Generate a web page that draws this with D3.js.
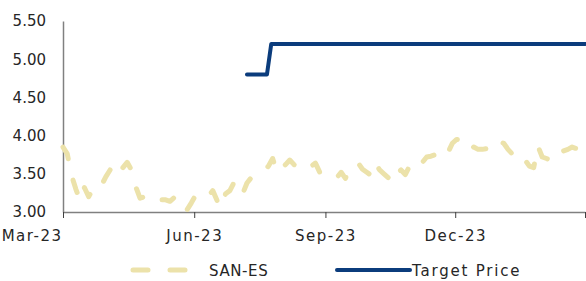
<!DOCTYPE html>
<html lang="en">
	<head>
		<meta charset="utf-8">
		<title>SAN-ES vs Target Price</title>
		<script type="text/javascript" src="https://d3js.org/d3.v7.min.js"></script>
		<style type="text/css">
			body {
				background-color: white;
				font-family: "DejaVu Sans", sans-serif;
				margin: 0;
			}
			svg {
				display: block;
				background-color: white;
			}
		</style>
	</head>
	<body>
		<script type="text/javascript">
			// Share price, every 3 days
			var priceDates = [
				"2023-03-01","2023-03-04","2023-03-07","2023-03-10","2023-03-13","2023-03-16","2023-03-19","2023-03-22",
				"2023-03-25","2023-03-28","2023-03-31","2023-04-03","2023-04-06","2023-04-09","2023-04-12","2023-04-15",
				"2023-04-18","2023-04-21","2023-04-24","2023-04-27","2023-04-30","2023-05-03","2023-05-06","2023-05-09",
				"2023-05-12","2023-05-15","2023-05-18","2023-05-21","2023-05-24","2023-05-27","2023-05-30","2023-06-02",
				"2023-06-05","2023-06-08","2023-06-11","2023-06-14","2023-06-17","2023-06-20","2023-06-23","2023-06-26",
				"2023-06-29","2023-07-02","2023-07-05","2023-07-08","2023-07-11","2023-07-14","2023-07-17","2023-07-20",
				"2023-07-23","2023-07-26","2023-07-29","2023-08-01","2023-08-04","2023-08-07","2023-08-10","2023-08-13",
				"2023-08-16","2023-08-19","2023-08-22","2023-08-25","2023-08-28","2023-08-31","2023-09-03","2023-09-06",
				"2023-09-09","2023-09-12","2023-09-15","2023-09-18","2023-09-21","2023-09-24","2023-09-27","2023-09-30",
				"2023-10-03","2023-10-06","2023-10-09","2023-10-12","2023-10-15","2023-10-18","2023-10-21","2023-10-24",
				"2023-10-27","2023-10-30","2023-11-02","2023-11-05","2023-11-08","2023-11-11","2023-11-14","2023-11-17",
				"2023-11-20","2023-11-23","2023-11-26","2023-11-29","2023-12-02","2023-12-05","2023-12-08","2023-12-11",
				"2023-12-14","2023-12-17","2023-12-20","2023-12-23","2023-12-26","2023-12-29","2024-01-01","2024-01-04",
				"2024-01-07","2024-01-10","2024-01-13","2024-01-16","2024-01-19","2024-01-22","2024-01-25","2024-01-28",
				"2024-01-31","2024-02-03","2024-02-06","2024-02-09","2024-02-12","2024-02-15","2024-02-18","2024-02-21",
				"2024-02-24","2024-02-27","2024-02-29"
			];
			var priceValues = [
				3.85, 3.76, 3.48, 3.30, 3.15, 3.32, 3.20, 3.30,
				3.28, 3.35, 3.46, 3.55, 3.45, 3.50, 3.58, 3.65,
				3.55, 3.33, 3.18, 3.20, 3.16, 3.18, 3.14, 3.16,
				3.16, 3.14, 3.19, 3.21, 3.13, 3.03, 3.12, 3.22,
				3.21, 3.24, 3.21, 3.28, 3.15, 3.06, 3.24, 3.28,
				3.39, 3.25, 3.24, 3.38, 3.45, 3.50, 3.52, 3.54,
				3.60, 3.70, 3.52, 3.57, 3.62, 3.68, 3.62, 3.58,
				3.58, 3.55, 3.60, 3.64, 3.52, 3.48, 3.50, 3.47,
				3.45, 3.52, 3.44, 3.56, 3.60, 3.64, 3.56, 3.52,
				3.48, 3.64, 3.55, 3.50, 3.45, 3.38, 3.50, 3.55,
				3.49, 3.60, 3.55, 3.60, 3.65, 3.72, 3.73, 3.75,
				3.74, 3.70, 3.78, 3.90, 3.95, 3.94, 3.83, 3.82,
				3.85, 3.82, 3.82, 3.83, 3.80, 3.85, 3.92, 3.90,
				3.82, 3.76, 3.70, 3.74, 3.68, 3.60, 3.58, 3.86,
				3.72, 3.70, 3.68, 3.66, 3.72, 3.80, 3.82, 3.85,
				3.83, 3.87, 3.86
			];

			// Analyst target price (step)
			var targetDates = ["2023-07-08", "2023-07-22", "2023-07-25", "2024-03-01"];
			var targetValues = [4.80, 4.80, 5.20, 5.20];

			// Axis ticks
			var yTicks = [3.00, 3.50, 4.00, 4.50, 5.00, 5.50];
			var xTickDates = ["2023-03-01", "2023-06-01", "2023-09-01", "2023-12-01", "2024-03-01"];
			var xTickLabels = ["Mar-23", "Jun-23", "Sep-23", "Dec-23", ""];

			var seriesNames = ["SAN-ES", "Target Price"];

			var w = 586;
			var h = 281;
			var parse = d3.timeParse("%Y-%m-%d");

			var price = priceDates.map(function(d, i) { return { date: parse(d), value: priceValues[i] }; });
			var target = targetDates.map(function(d, i) { return { date: parse(d), value: targetValues[i] }; });

			var x = d3.scaleTime()
				.domain([parse("2023-03-01"), parse("2024-03-01")])
				.range([63, 585]);
			var y = d3.scaleLinear()
				.domain([3, 5.5])
				.range([212, 21]);

			var svg = d3.select("body")
				.append("svg")
				.attr("width", w)
				.attr("height", h);

			// y axis (line only, no ticks)
			var yAxis = d3.axisLeft(y)
				.tickValues(yTicks)
				.tickSize(0)
				.tickPadding(17)
				.tickFormat(d3.format(".2f"));
			var gy = svg.append("g")
				.attr("transform", "translate(63,0)")
				.call(yAxis);
			gy.select(".domain").attr("stroke", "#808080").attr("stroke-width", 1.5);
			gy.selectAll("text")
				.attr("fill", "#262626")
				.style("font-size", "15px")
				.style("font-family", "DejaVu Sans");

			// x axis
			var xAxis = d3.axisBottom(x)
				.tickValues(xTickDates.map(parse))
				.tickSize(6)
				.tickSizeOuter(0)
				.tickPadding(12)
				.tickFormat(function(d, i) { return xTickLabels[i]; });
			var gx = svg.append("g")
				.attr("transform", "translate(0,212)")
				.call(xAxis);
			gx.select(".domain").attr("stroke", "#808080").attr("stroke-width", 1.5);
			gx.selectAll(".tick line").attr("stroke", "#404040").attr("stroke-width", 1);
			gx.selectAll("text")
				.attr("fill", "#262626")
				.style("font-size", "15px")
				.style("letter-spacing", "1.5px")
				.style("font-family", "DejaVu Sans");
			// first label sits left of the axis corner
			gx.selectAll(".tick text").filter(function(d, i) { return i === 0; })
				.attr("text-anchor", "end")
				.attr("dx", "-1");

			var line = d3.line()
				.x(function(d) { return x(d.date); })
				.y(function(d) { return y(d.value); });

			svg.append("path")
				.datum(price)
				.attr("d", line)
				.attr("fill", "none")
				.attr("stroke", "#ece2aa")
				.attr("stroke-width", 5)
				.attr("stroke-linecap", "round")
				.attr("stroke-linejoin", "round")
				.attr("stroke-dasharray", "13,22");

			svg.append("path")
				.datum(target)
				.attr("d", line)
				.attr("fill", "none")
				.attr("stroke", "#0b3c7c")
				.attr("stroke-width", 4)
				.attr("stroke-linecap", "round")
				.attr("stroke-linejoin", "round");

			// legend
			var legend = svg.append("g").attr("transform", "translate(0,270)");
			legend.append("line")
				.attr("x1", 133).attr("x2", 190)
				.attr("stroke", "#ece2aa")
				.attr("stroke-width", 5)
				.attr("stroke-linecap", "round")
				.attr("stroke-dasharray", "15,22");
			legend.append("text")
				.attr("x", 209).attr("y", 5.5)
				.attr("fill", "#262626")
				.style("font-size", "15px")
				.style("letter-spacing", "0.6px")
				.text(seriesNames[0]);
			legend.append("line")
				.attr("x1", 337).attr("x2", 410)
				.attr("stroke", "#0b3c7c")
				.attr("stroke-width", 4)
				.attr("stroke-linecap", "round");
			legend.append("text")
				.attr("x", 412).attr("y", 5.5)
				.attr("fill", "#262626")
				.style("font-size", "15px")
				.style("letter-spacing", "1.8px")
				.text(seriesNames[1]);
		</script>
	</body>
</html>
